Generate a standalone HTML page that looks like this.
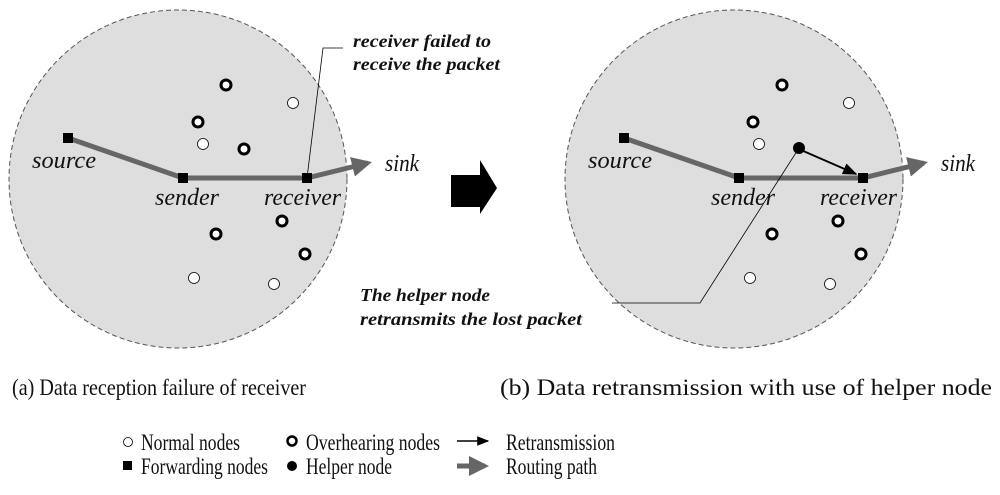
<!DOCTYPE html>
<html><head><meta charset="utf-8"><style>
html,body{margin:0;padding:0;background:#fff;}
svg{display:block;}
.it{font-family:"Liberation Serif",serif;font-style:italic;font-size:24px;fill:#111;}
.bi{font-family:"Liberation Serif",serif;font-style:italic;font-weight:bold;font-size:18px;fill:#111;}
.rm{font-family:"Liberation Serif",serif;font-size:23px;fill:#111;}
</style></head><body>
<svg width="1000" height="495" viewBox="0 0 1000 495" xmlns="http://www.w3.org/2000/svg">
<defs>
<marker id="ga" viewBox="0 0 10 10" refX="8" refY="5" markerWidth="4" markerHeight="4" orient="auto" markerUnits="strokeWidth"><path d="M0,0 L10,5 L0,10 z" fill="#666"/></marker>
<marker id="ba" viewBox="0 0 10 10" refX="9" refY="5" markerWidth="8" markerHeight="8" orient="auto" markerUnits="strokeWidth"><path d="M0,1 L10,5 L0,9 z" fill="#000"/></marker>
</defs>
<!-- left -->
<circle cx="178" cy="179" r="169" fill="#dedede" stroke="#555" stroke-width="1" stroke-dasharray="5,3"/>
<polyline points="68,138 183,178 307,178 368,163" fill="none" stroke="#666" stroke-width="5" marker-end="url(#ga)"/>
<g fill="#fff" stroke="#000" stroke-width="3">
<circle cx="226" cy="85" r="5"/><circle cx="198" cy="122" r="5"/><circle cx="244" cy="149" r="5"/>
<circle cx="282" cy="221" r="5"/><circle cx="216" cy="234" r="5"/><circle cx="305" cy="254" r="5"/>
</g>
<g fill="#fff" stroke="#000" stroke-width="0.8">
<circle cx="293" cy="103" r="5.5"/><circle cx="203" cy="144" r="5.5"/><circle cx="194" cy="278" r="5.5"/><circle cx="274" cy="284" r="5.5"/>
</g>
<g fill="#000"><rect x="63" y="133" width="10" height="10"/><rect x="178" y="173" width="10" height="10"/><rect x="302" y="173" width="10" height="10"/></g>
<text class="it" x="32" y="168" textLength="64" lengthAdjust="spacingAndGlyphs">source</text>
<text class="it" x="155" y="205" textLength="64" lengthAdjust="spacingAndGlyphs">sender</text>
<text class="it" x="264" y="205" textLength="77" lengthAdjust="spacingAndGlyphs">receiver</text>
<text class="it" x="385" y="171" textLength="34" lengthAdjust="spacingAndGlyphs">sink</text>
<polyline points="307,178 323,48 343,48" fill="none" stroke="#000" stroke-width="0.8"/>
<text class="bi" x="353" y="47" textLength="138" lengthAdjust="spacingAndGlyphs">receiver failed to</text>
<text class="bi" x="353" y="70" textLength="147" lengthAdjust="spacingAndGlyphs">receive the packet</text>
<!-- big arrow -->
<path d="M451,175 L480,175 L480,160 L497,188 L480,214 L480,207 L451,207 z" fill="#000"/>
<!-- right -->
<circle cx="734" cy="179" r="169" fill="#dedede" stroke="#555" stroke-width="1" stroke-dasharray="5,3"/>
<polyline points="624,138 739,178 863,178 924,163" fill="none" stroke="#666" stroke-width="5" marker-end="url(#ga)"/>
<g fill="#fff" stroke="#000" stroke-width="3">
<circle cx="782" cy="85" r="5"/><circle cx="753" cy="122" r="5"/>
<circle cx="838" cy="221" r="5"/><circle cx="772" cy="234" r="5"/><circle cx="861" cy="254" r="5"/>
</g>
<g fill="#fff" stroke="#000" stroke-width="0.8">
<circle cx="849" cy="103" r="5.5"/><circle cx="759" cy="144" r="5.5"/><circle cx="750" cy="278" r="5.5"/><circle cx="830" cy="284" r="5.5"/>
</g>
<polyline points="799,148 700,303 612,303" fill="none" stroke="#000" stroke-width="0.8"/>
<line x1="801" y1="150" x2="856" y2="174" stroke="#000" stroke-width="1.8" marker-end="url(#ba)"/>
<circle cx="799" cy="148" r="6" fill="#000"/>
<g fill="#000"><rect x="619" y="133" width="10" height="10"/><rect x="734" y="173" width="10" height="10"/><rect x="858" y="173" width="10" height="10"/></g>
<text class="it" x="588" y="168" textLength="64" lengthAdjust="spacingAndGlyphs">source</text>
<text class="it" x="711" y="205" textLength="64" lengthAdjust="spacingAndGlyphs">sender</text>
<text class="it" x="820" y="205" textLength="77" lengthAdjust="spacingAndGlyphs">receiver</text>
<text class="it" x="941" y="171" textLength="34" lengthAdjust="spacingAndGlyphs">sink</text>
<text class="bi" x="360" y="301" textLength="130" lengthAdjust="spacingAndGlyphs">The helper node</text>
<text class="bi" x="360" y="325" textLength="222" lengthAdjust="spacingAndGlyphs">retransmits the lost packet</text>
<!-- captions -->
<text class="rm" x="12" y="395" textLength="294" lengthAdjust="spacingAndGlyphs">(a) Data reception failure of receiver</text>
<text class="rm" x="500" y="395" textLength="492" lengthAdjust="spacingAndGlyphs">(b) Data retransmission with use of helper node</text>
<!-- legend -->
<circle cx="128" cy="442" r="4.5" fill="#fff" stroke="#000" stroke-width="0.8"/>
<text class="rm" x="141" y="450" textLength="99" lengthAdjust="spacingAndGlyphs">Normal nodes</text>
<rect x="123" y="461" width="9" height="9" fill="#000"/>
<text class="rm" x="141" y="474" textLength="127" lengthAdjust="spacingAndGlyphs">Forwarding nodes</text>
<circle cx="292" cy="441" r="4.5" fill="#fff" stroke="#000" stroke-width="2.5"/>
<text class="rm" x="306" y="450" textLength="134" lengthAdjust="spacingAndGlyphs">Overhearing nodes</text>
<circle cx="292" cy="466" r="5" fill="#000"/>
<text class="rm" x="306" y="474" textLength="86" lengthAdjust="spacingAndGlyphs">Helper node</text>
<line x1="457" y1="441" x2="488" y2="441" stroke="#000" stroke-width="1.5" marker-end="url(#ba)"/>
<text class="rm" x="506" y="450" textLength="109" lengthAdjust="spacingAndGlyphs">Retransmission</text>
<line x1="457" y1="466" x2="485" y2="466" stroke="#666" stroke-width="5" marker-end="url(#ga)"/>
<text class="rm" x="506" y="474" textLength="91" lengthAdjust="spacingAndGlyphs">Routing path</text>
</svg>
</body></html>
